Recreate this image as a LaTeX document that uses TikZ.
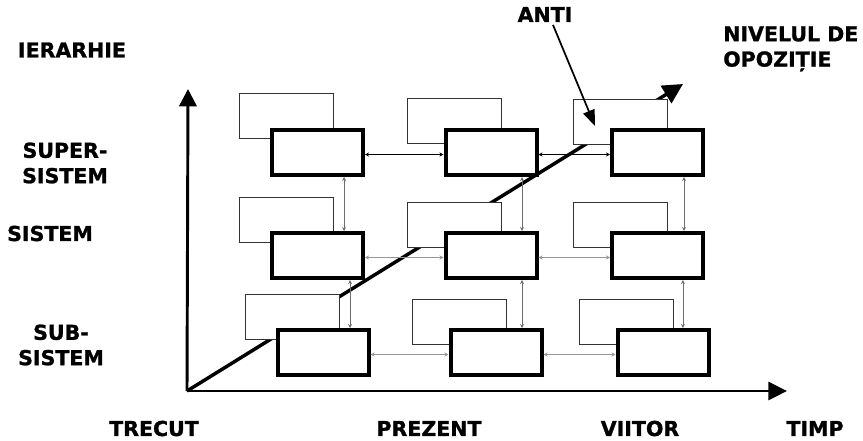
\documentclass[tikz,border=0pt]{standalone}
\usepackage{fontspec}
\setmainfont{DejaVu Sans}[BoldFeatures={FakeBold=1.2}]
\usetikzlibrary{arrows.meta, positioning, calc}
\definecolor{linkgray}{RGB}{110,110,110}
\definecolor{lightlink}{RGB}{150,150,150}

\tikzset{
  level/.style={draw, line width=3pt, fill=white, minimum width=68.25pt,
    minimum height=33.75pt, inner sep=0pt},
  shadowbox/.style={draw=black!80, line width=0.75pt, fill=white,
    minimum width=70.5pt, minimum height=33.75pt, inner sep=0pt},
  link/.style={line width=0.6pt,
    {Stealth[length=3pt,width=3pt]}-{Stealth[length=3pt,width=3pt]}},
  axis/.style={line width=2.2pt, -{Triangle[length=13pt,width=13pt]}},
  label/.style={inner sep=0pt, align=center},
}

\begin{document}
\begin{tikzpicture}[x=0.75pt, y=-0.75pt,
  every node/.style={font=\fontsize{15.4}{19}\selectfont\bfseries}]
  \useasboundingbox (0,0) rectangle (863,440);

  % ── Axes ─────────────────────────────────────────────────────────
  \coordinate (origin) at (187,391);
  \coordinate (ytip) at (188,89);
  \coordinate (xtip) at (787,391);
  \coordinate (dtip) at (683,84);
  \draw[axis] (origin) -- (ytip);
  \draw[axis, -{Triangle[length=14pt,width=13.5pt]}] (origin) -- (xtip);
  \draw[line width=2.6pt, -{Triangle[length=15pt,width=15pt]}] (origin) -- (dtip);

  % ── Thin boxes behind each level ────────────────────────────────
  \foreach \name/\x/\y in {s11/286.5/116, s12/454/121, s13/620.5/121.5,
                           s21/286.5/219.5, s22/454/224.5, s23/620.5/225,
                           s31/292.5/317, s32/459/321.5, s33/626/321.5}{
    \node[shadowbox] (\name) at (\x,\y) {};
  }

  % ── Thick level boxes ───────────────────────────────────────────
  \foreach \name/\x/\y in {r1c1/317.5/152.5, r1c2/491/152.5, r1c3/657.5/152.5,
                           r2c1/317.5/255.5, r2c2/491/255.5, r2c3/657.5/255.5,
                           r3c1/323/352.5, r3c2/496/352.5, r3c3/663/352.5}{
    \node[level] (\name) at (\x,\y) {};
  }

  % ── Links along time ────────────────────────────────────────────
  \draw[link] ([yshift=-1.5pt]r1c1.east) -- ([yshift=-1.5pt]r1c2.west);
  \draw[link] ([yshift=-1.5pt]r1c2.east) -- ([yshift=-1.5pt]r1c3.west);
  \foreach \a/\b in {r2c1/r2c2, r2c2/r2c3, r3c1/r3c2, r3c2/r3c3}{
    \draw[link, lightlink] ([yshift=-1.5pt]\a.east) -- ([yshift=-1.5pt]\b.west);
  }

  % ── Links between levels ────────────────────────────────────────
  \foreach \up/\dn/\dx in {r1c1/r2c1/19.9pt, r2c1/r3c1/24.4pt,
                           r1c2/r2c2/23.3pt, r2c2/r3c2/23.3pt,
                           r1c3/r2c3/19.9pt, r2c3/r3c3/19.1pt}{
    \coordinate (v) at ([xshift=\dx]\up.south);
    \draw[link, linkgray] (v) -- (v |- \dn.north);
  }

  % ── Labels ──────────────────────────────────────────────────────
  \node[label] (ierarhie) at (72,50) {IERARHIE};
  \node[label] (super) at (65,163) {SUPER-\\SISTEM};
  \node[label] (sistem) at (50,233.5) {SISTEM};
  \node[label] (sub) at (61,345) {SUB-\\SISTEM};
  \node[label] (trecut) at (154,428.5) {TRECUT};
  \node[label] (prezent) at (429,428.5) {PREZENT};
  \node[label] (viitor) at (640,428.5) {VIITOR};
  \node[label] (timp) at (815,428.5) {TIMP};
  \node[label, anchor=north west, align=left] (nivel) at (723,26)
    {NIVELUL DE\\OPOZIȚIE};

  % ── Anti pointer ────────────────────────────────────────────────
  \node[label] (anti) at (545,14.5) {ANTI};
  \coordinate (antitip) at (595,126);
  \draw[line width=1.3pt, -{Triangle[length=12pt,width=9pt]}]
    ([xshift=6pt, yshift=-2pt]anti.south) -- (antitip);
\end{tikzpicture}
\end{document}
